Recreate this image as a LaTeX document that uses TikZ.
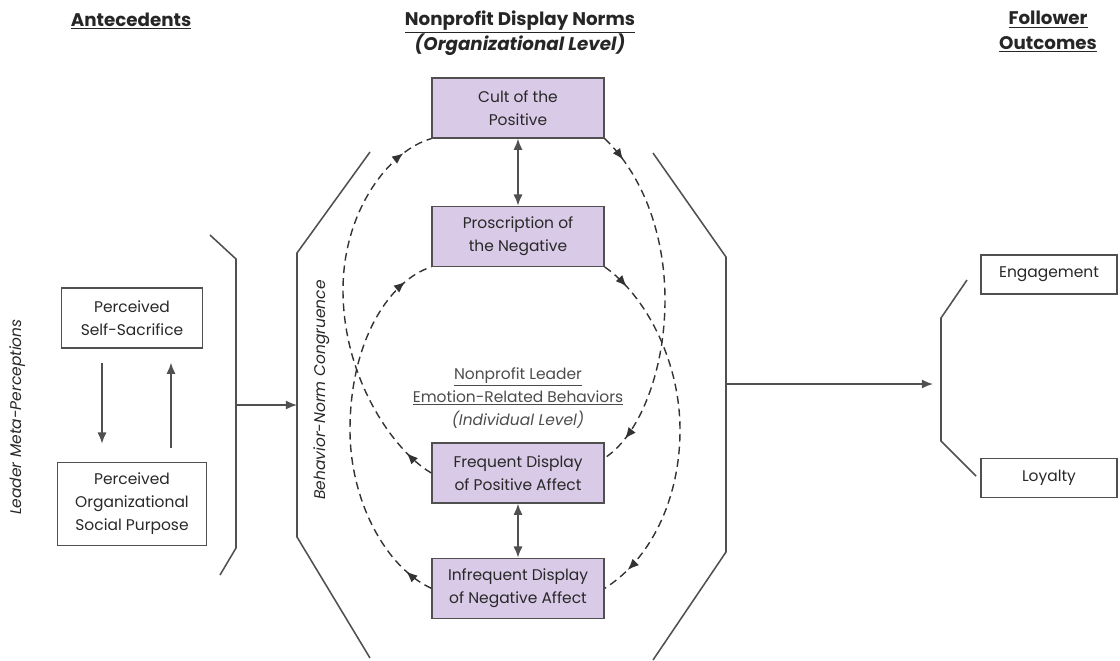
\documentclass[tikz,border=0pt]{standalone}
\usepackage{fontspec}
\setmainfont{Poppins}
\usetikzlibrary{positioning,calc,arrows.meta,decorations.markings}

\definecolor{normfill}{RGB}{217,202,231}
\definecolor{linegray}{RGB}{80,80,80}
\definecolor{textgray}{RGB}{40,40,40}

\begin{document}
\begin{tikzpicture}[
    x=0.025cm,
    y=-0.025cm,
    >={Latex[length=8pt,width=6.5pt]},
    every node/.style={
        font=\fontsize{11}{16.5}\selectfont,
        text=textgray
    },
    factor/.style={
        draw=linegray,
        line width=0.9pt,
        align=center,
        inner sep=2pt
    },
    norm/.style={
        factor,
        fill=normfill,
        minimum width=4.3cm,
        minimum height=1.5cm
    },
    heading/.style={
        font=\fontsize{13}{17.5}\selectfont\bfseries,
        text=black!85,
        align=center
    },
    bracket/.style={
        draw=linegray,
        line width=1.1pt
    },
    link/.style={
        draw=linegray,
        line width=1.1pt,
        ->
    },
    feedback/.style={
        draw=black!80,
        line width=1pt,
        dash pattern=on 5.5pt off 3.5pt,
        postaction={decorate},
        decoration={markings,
            mark=at position 0.08 with {\arrow{Latex[length=8pt,width=6.5pt]}},
            mark=at position 0.92 with {\arrow{Latex[length=8pt,width=6.5pt]}}}
    }
]

\useasboundingbox (0,0) rectangle (1120,660);

%%%%%%%%%%%%%%%%%%%%%%%%%%%%%%%%%%%%%%%%%%%%%%%%%%%%
%% Headings
%%%%%%%%%%%%%%%%%%%%%%%%%%%%%%%%%%%%%%%%%%%%%%%%%%%%

\node[heading] (antehead) at (131,21) {\underline{Antecedents}};
\node[heading] (normhead) at (520,33)
{\underline{Nonprofit Display Norms}\\\textit{(Organizational Level)}};
\node[heading] (outhead) at (1048,32)
{\underline{Follower}\\\underline{Outcomes}};

%%%%%%%%%%%%%%%%%%%%%%%%%%%%%%%%%%%%%%%%%%%%%%%%%%%%
%% Antecedents
%%%%%%%%%%%%%%%%%%%%%%%%%%%%%%%%%%%%%%%%%%%%%%%%%%%%

\node[factor,minimum width=3.525cm,minimum height=1.5cm] (sacrifice)
at (132,318) {Perceived\\Self-Sacrifice};
\node[factor,minimum width=3.725cm,minimum height=2.075cm,
    below=2.825cm of sacrifice] (purpose)
{Perceived\\Organizational\\Social Purpose};

\node[rotate=90,font=\fontsize{11}{16.5}\selectfont\itshape] (metalabel)
at (18,417) {Leader Meta-Perceptions};

\draw[link] ($(sacrifice.south)+(-30,14)$) -- ($(purpose.north)+(-30,-18)$);
\draw[link] ($(purpose.north)+(39,-14)$) -- ($(sacrifice.south)+(39,14)$);

\draw[bracket] (210,235) -- (236,259) -- (236,548) -- (220,575);

%%%%%%%%%%%%%%%%%%%%%%%%%%%%%%%%%%%%%%%%%%%%%%%%%%%%
%% Display norms and behaviors
%%%%%%%%%%%%%%%%%%%%%%%%%%%%%%%%%%%%%%%%%%%%%%%%%%%%

\node[norm] (cult) at (518,108) {Cult of the\\Positive};
\node[norm,below=1.675cm of cult] (proscr) {Proscription of\\the Negative};

\node[align=center,text=black!70] (behavhead) at (518,398)
{\underline{Nonprofit Leader}\\\underline{Emotion-Related Behaviors}\\\textit{(Individual Level)}};

\node[norm] (frequent) at (518,473) {Frequent Display\\of Positive Affect};
\node[norm,below=1.35cm of frequent] (infrequent)
{Infrequent Display\\of Negative Affect};

\draw[link,<->] (cult) -- (proscr);
\draw[link,<->] (frequent) -- (infrequent);

\node[rotate=90,font=\fontsize{11}{16.5}\selectfont\itshape] (congruence)
at (322,390) {Behavior-Norm Congruence};

% octagon sides
\draw[bracket] (370,152) -- (297,253) -- (297,537) -- (370,658);
\draw[bracket] (653,153) -- (726,257) -- (726,552) -- (653,660);

%%%%%%%%%%%%%%%%%%%%%%%%%%%%%%%%%%%%%%%%%%%%%%%%%%%%
%% Dashed feedback loops
%%%%%%%%%%%%%%%%%%%%%%%%%%%%%%%%%%%%%%%%%%%%%%%%%%%%

\draw[feedback] (frequent.west)
    .. controls (395,452) and (343,380) .. (343,290)
    .. controls (343,210) and (390,150) .. (cult.south west);
\draw[feedback] (infrequent.west)
    .. controls (385,567) and (350,500) .. (350,430)
    .. controls (350,340) and (390,280) .. (proscr.south west);

\draw[feedback] (cult.south east)
    .. controls (640,172) and (665,230) .. (665,300)
    .. controls (665,370) and (640,435) .. ($(frequent.east)+(0,-15)$);
\draw[feedback] (proscr.south east)
    .. controls (645,295) and (680,360) .. (680,430)
    .. controls (680,500) and (650,560) .. (infrequent.east);

%%%%%%%%%%%%%%%%%%%%%%%%%%%%%%%%%%%%%%%%%%%%%%%%%%%%
%% Follower outcomes
%%%%%%%%%%%%%%%%%%%%%%%%%%%%%%%%%%%%%%%%%%%%%%%%%%%%

\node[factor,minimum width=3.4cm,minimum height=0.975cm] (engage)
at (1049,274.5) {Engagement};
\node[factor,minimum width=3.4cm,minimum height=0.975cm,
    below=4.075cm of engage] (loyal) {Loyalty};

\draw[bracket] (967,280) -- (941,318) -- (941,441) -- (976,476);

%%%%%%%%%%%%%%%%%%%%%%%%%%%%%%%%%%%%%%%%%%%%%%%%%%%%
%% Main arrows
%%%%%%%%%%%%%%%%%%%%%%%%%%%%%%%%%%%%%%%%%%%%%%%%%%%%

\coordinate (anteout) at (236,405);
\coordinate (normin) at (297,405);
\coordinate (normout) at (726,384);
\coordinate (outcin) at (933,384);

\draw[link] (anteout) -- (normin);
\draw[link] (normout) -- (outcin);

\end{tikzpicture}
\end{document}
